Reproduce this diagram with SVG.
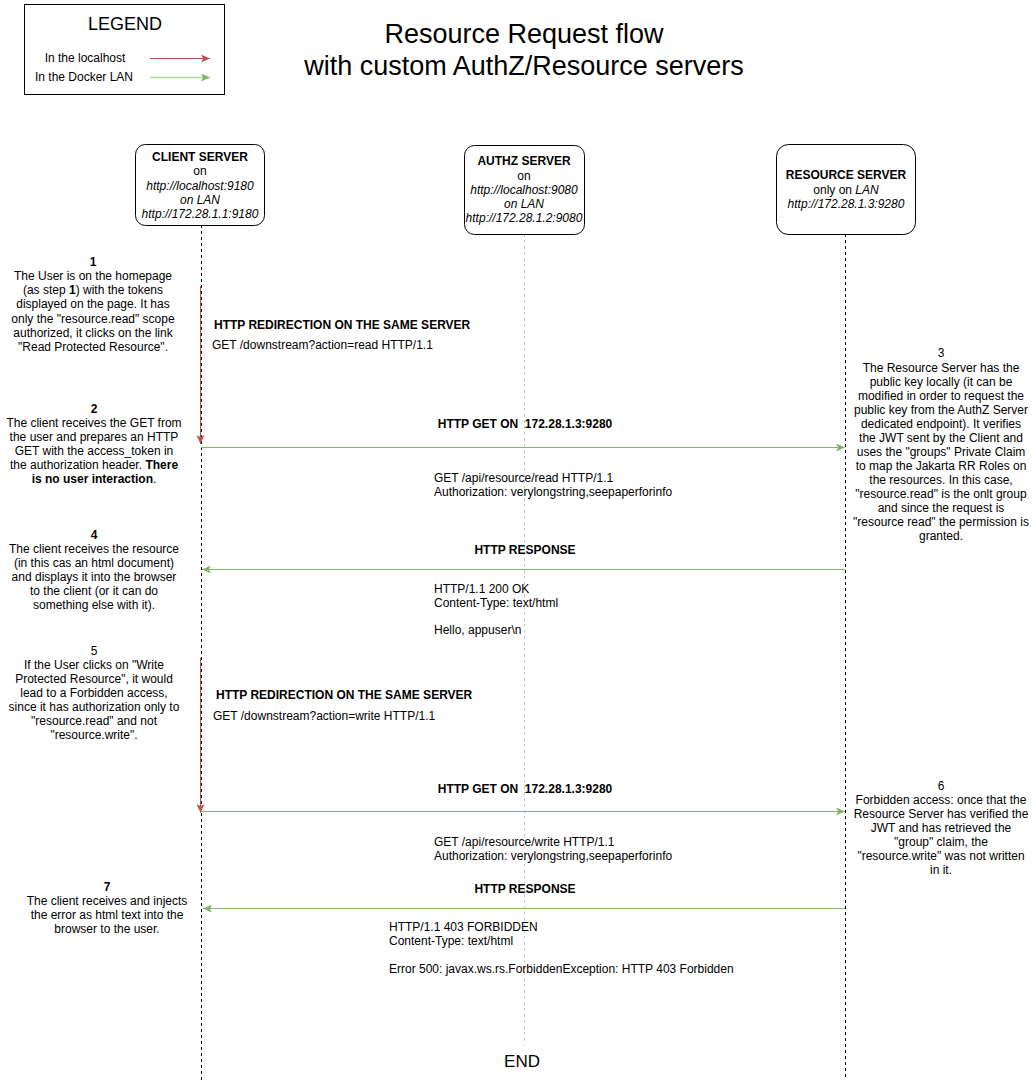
<svg xmlns="http://www.w3.org/2000/svg" width="1035" height="1082" viewBox="0 0 1035 1082">
<style>
text{font-family:"Liberation Sans",Arial,Helvetica,sans-serif;font-size:12px;fill:#000}
.c{text-anchor:middle}
.b{font-weight:bold}
.i{font-style:italic}
.box{fill:#fff;stroke:#000;stroke-width:1}
.life{fill:none;stroke:#000;stroke-width:1;stroke-dasharray:3 3}
.lifeg{fill:none;stroke:#c8c8c8;stroke-width:1;stroke-dasharray:3 3}
.red{fill:none;stroke:#b85450;stroke-width:1;marker-end:url(#ar)}
.grn{fill:none;stroke:#82b366;stroke-width:1;marker-end:url(#ag)}
</style>
<defs>
<marker id="ar" markerUnits="userSpaceOnUse" markerWidth="10" markerHeight="8" refX="9" refY="4" orient="auto"><path d="M0,0 L9,4 L0,8 L2.2,4 Z" fill="#b85450"/></marker>
<marker id="ag" markerUnits="userSpaceOnUse" markerWidth="10" markerHeight="8" refX="9" refY="4" orient="auto"><path d="M0,0 L9,4 L0,8 L2.2,4 Z" fill="#82b366"/></marker>
</defs>
<rect width="1035" height="1082" fill="#fff"/>

<g id="legend">
<rect x="24.5" y="4.5" width="200" height="90" fill="#fff" stroke="#000"/>
<text x="125" y="30" class="c" style="font-size:18px">LEGEND</text>
<text x="85" y="62" class="c">In the localhost</text>
<text x="84" y="81" class="c">In the Docker LAN</text>
<line x1="150" y1="58.5" x2="210" y2="58.5" class="red"/>
<line x1="150" y1="77.5" x2="210" y2="77.5" style="fill:none;stroke:#b0d898;stroke-width:1.5;marker-end:url(#ag)"/>
</g>

<g id="title">
<text x="524" y="43" class="c" style="font-size:27px">Resource Request flow</text>
<text x="524" y="75" class="c" style="font-size:27px">with custom AuthZ/Resource servers</text>
</g>

<g id="lifelines">
<line x1="201.5" y1="225" x2="201.5" y2="1080" class="life"/>
<line x1="524.5" y1="234" x2="524.5" y2="1045" class="lifeg"/>
<line x1="845.5" y1="234" x2="845.5" y2="1080" class="life"/>
</g>

<g id="client-server">
<rect x="135.5" y="144.5" width="129" height="81" rx="10" class="box"/>
<text x="200" y="161" class="c b">CLIENT SERVER</text>
<text x="200" y="175" class="c">on</text>
<text x="200" y="190" class="c i">http://localhost:9180</text>
<text x="200" y="204" class="c i">on LAN</text>
<text x="200" y="218" class="c i">http://172.28.1.1:9180</text>
</g>

<g id="authz-server">
<rect x="464.5" y="145.5" width="120" height="89" rx="10" class="box"/>
<text x="524" y="165" class="c b">AUTHZ SERVER</text>
<text x="524" y="180" class="c">on</text>
<text x="524" y="194" class="c i">http://localhost:9080</text>
<text x="524" y="208" class="c i">on LAN</text>
<text x="524" y="222" class="c i">http://172.28.1.2:9080</text>
</g>

<g id="resource-server">
<rect x="776.5" y="144.5" width="139" height="90" rx="12" class="box"/>
<text x="846" y="179" class="c b">RESOURCE SERVER</text>
<text x="846" y="194" class="c">only on <tspan class="i">LAN</tspan></text>
<text x="846" y="208" class="c i">http://172.28.1.3:9280</text>
</g>

<g id="connectors">
<line x1="200.5" y1="286" x2="200.5" y2="444" class="red"/>
<line x1="201" y1="447.5" x2="845" y2="447.5" class="grn"/>
<line x1="845" y1="569.5" x2="202" y2="569.5" class="grn"/>
<line x1="200.5" y1="658" x2="200.5" y2="813" class="red"/>
<line x1="201" y1="811.5" x2="845" y2="811.5" class="grn"/>
<line x1="845" y1="908.5" x2="203" y2="908.5" class="grn"/>
</g>

<g id="message-labels">
<text x="214" y="329" class="b">HTTP REDIRECTION ON THE SAME SERVER</text>
<text x="212" y="349">GET /downstream?action=read HTTP/1.1</text>
<text x="525" y="428" class="c b">HTTP GET ON&#160; 172.28.1.3:9280</text>
<text x="434" y="482">GET /api/resource/read HTTP/1.1</text>
<text x="434" y="496">Authorization: verylongstring,seepaperforinfo</text>
<text x="525" y="554" class="c b">HTTP RESPONSE</text>
<text x="434" y="593">HTTP/1.1 200 OK</text>
<text x="434" y="607">Content-Type: text/html</text>
<text x="434" y="634">Hello, appuser\n</text>
<text x="216" y="699" class="b">HTTP REDIRECTION ON THE SAME SERVER</text>
<text x="213" y="720">GET /downstream?action=write HTTP/1.1</text>
<text x="525" y="793" class="c b">HTTP GET ON&#160; 172.28.1.3:9280</text>
<text x="434" y="846">GET /api/resource/write HTTP/1.1</text>
<text x="434" y="860">Authorization: verylongstring,seepaperforinfo</text>
<text x="525" y="893" class="c b">HTTP RESPONSE</text>
<text x="389" y="931">HTTP/1.1 403 FORBIDDEN</text>
<text x="389" y="945">Content-Type: text/html</text>
<text x="389" y="973">Error 500: javax.ws.rs.ForbiddenException: HTTP 403 Forbidden</text>
</g>

<g id="step1">
<text x="93" y="266" class="c b">1</text>
<text x="93" y="280" class="c">The User is on the homepage</text>
<text x="93" y="294" class="c">(as step <tspan class="b">1</tspan>) with the tokens</text>
<text x="93" y="308" class="c">displayed on the page. It has</text>
<text x="93" y="323" class="c">only the "resource.read" scope</text>
<text x="93" y="337" class="c">authorized, it clicks on the link</text>
<text x="93" y="351" class="c">"Read Protected Resource".</text>
</g>

<g id="step2">
<text x="94" y="413" class="c b">2</text>
<text x="94" y="427" class="c">The client receives the GET from</text>
<text x="94" y="441" class="c">the user and prepares an HTTP</text>
<text x="94" y="455" class="c">GET with the access_token in</text>
<text x="94" y="469" class="c">the authorization header. <tspan class="b">There</tspan></text>
<text x="94" y="483" class="c"><tspan class="b">is no user interaction</tspan>.</text>
</g>

<g id="step3">
<text x="941" y="357" class="c">3</text>
<text x="941" y="372" class="c">The Resource Server has the</text>
<text x="941" y="386" class="c">public key locally (it can be</text>
<text x="941" y="400" class="c">modified in order to request the</text>
<text x="941" y="414" class="c">public key from the AuthZ Server</text>
<text x="941" y="428" class="c">dedicated endpoint). It verifies</text>
<text x="941" y="442" class="c">the JWT sent by the Client and</text>
<text x="941" y="456" class="c">uses the "groups" Private Claim</text>
<text x="941" y="470" class="c">to map the Jakarta RR Roles on</text>
<text x="941" y="484" class="c">the resources. In this case,</text>
<text x="941" y="498" class="c">"resource.read" is the onlt group</text>
<text x="941" y="512" class="c">and since the request is</text>
<text x="941" y="526" class="c">"resource read" the permission is</text>
<text x="941" y="540" class="c">granted.</text>
</g>

<g id="step4">
<text x="94" y="539" class="c b">4</text>
<text x="94" y="553" class="c">The client receives the resource</text>
<text x="94" y="567" class="c">(in this cas an html document)</text>
<text x="94" y="581" class="c">and displays it into the browser</text>
<text x="94" y="595" class="c">to the client (or it can do</text>
<text x="94" y="609" class="c">something else with it).</text>
</g>

<g id="step5">
<text x="94" y="655" class="c">5</text>
<text x="94" y="669" class="c">If the User clicks on "Write</text>
<text x="94" y="683" class="c">Protected Resource", it would</text>
<text x="94" y="697" class="c">lead to a Forbidden access,</text>
<text x="94" y="711" class="c">since it has authorization only to</text>
<text x="94" y="725" class="c">"resource.read" and not</text>
<text x="94" y="739" class="c">"resource.write".</text>
</g>

<g id="step6">
<text x="941" y="790" class="c">6</text>
<text x="941" y="804" class="c">Forbidden access: once that the</text>
<text x="941" y="818" class="c">Resource Server has verified the</text>
<text x="941" y="832" class="c">JWT and has retrieved the</text>
<text x="941" y="846" class="c">"group" claim, the</text>
<text x="941" y="860" class="c">"resource.write" was not written</text>
<text x="941" y="874" class="c">in it.</text>
</g>

<g id="step7">
<text x="107" y="891" class="c b">7</text>
<text x="107" y="905" class="c">The client receives and injects</text>
<text x="107" y="919" class="c">the error as html text into the</text>
<text x="107" y="933" class="c">browser to the user.</text>
</g>

<g id="end">
<text x="522" y="1067" class="c" style="font-size:17px">END</text>
</g>
</svg>
